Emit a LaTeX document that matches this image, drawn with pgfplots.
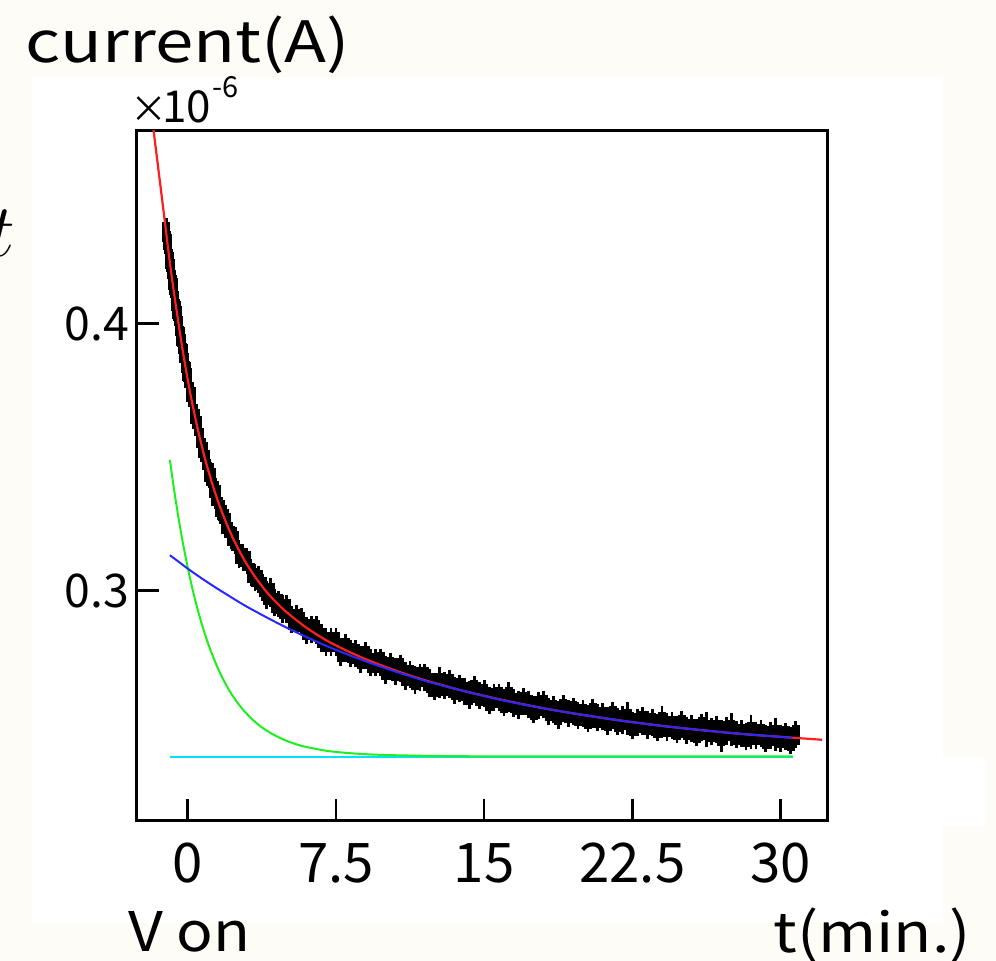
\documentclass[border=0pt]{standalone}
\usepackage{fix-cm}
\usepackage{fontspec}
\setmainfont{Noto Sans CJK JP}
\newfontfamily\titlefont{Noto Sans CJK JP}[FakeStretch=1.21]
\newfontfamily\vonfont{Noto Sans CJK JP}[FakeStretch=1.11]
\newfontfamily\timefont{Noto Sans CJK JP}[FakeStretch=1.15]
\usepackage{pgfplots}
\pgfplotsset{compat=1.18}

\definecolor{paper}{RGB}{253,252,247}
\definecolor{fitred}{RGB}{255,30,30}
\definecolor{fitblue}{RGB}{40,40,255}
\definecolor{fitgreen}{RGB}{30,240,30}
\definecolor{fitcyan}{RGB}{0,225,255}

% measured current, error = one standard deviation
\pgfplotstableread{
t      i       e
-1.08  0.4344  0.0030
-1.05  0.4312  0.0028
-1.00  0.4299  0.0031
-0.95  0.4243  0.0029
-0.90  0.4231  0.0030
-0.85  0.4206  0.0032
-0.80  0.4163  0.0028
-0.75  0.4146  0.0030
-0.70  0.4134  0.0031
-0.65  0.4086  0.0029
-0.60  0.4056  0.0030
-0.55  0.4047  0.0028
-0.50  0.4029  0.0031
-0.45  0.3991  0.0030
-0.40  0.3954  0.0029
-0.35  0.3952  0.0032
-0.30  0.3924  0.0030
-0.25  0.3891  0.0028
-0.20  0.3889  0.0030
-0.15  0.3853  0.0031
-0.10  0.3822  0.0029
-0.05  0.3821  0.0030
0.00   0.3796  0.0030
0.10   0.3745  0.0030
0.20   0.3727  0.0029
0.30   0.3664  0.0031
0.40   0.3642  0.0030
0.50   0.3619  0.0028
0.60   0.3572  0.0030
0.70   0.3536  0.0032
0.80   0.3522  0.0029
0.90   0.3491  0.0030
1.00   0.3446  0.0031
1.10   0.3443  0.0028
1.20   0.3423  0.0030
1.30   0.3385  0.0030
1.40   0.3355  0.0029
1.50   0.3358  0.0031
1.60   0.3314  0.0030
1.70   0.3302  0.0028
1.80   0.3286  0.0030
1.90   0.3251  0.0032
2.00   0.3255  0.0030
2.20   0.3206  0.0030
2.40   0.3187  0.0029
2.60   0.3137  0.0031
2.80   0.3125  0.0030
3.00   0.3111  0.0028
3.20   0.3067  0.0030
3.40   0.3050  0.0031
3.60   0.3042  0.0030
3.80   0.3013  0.0029
4.00   0.2984  0.0030
4.20   0.2993  0.0032
4.40   0.2956  0.0030
4.60   0.2952  0.0028
4.80   0.2932  0.0030
5.00   0.2931  0.0031
5.25   0.2892  0.0030
5.50   0.2894  0.0030
5.75   0.2884  0.0030
6.00   0.2852  0.0030
6.25   0.2856  0.0030
6.50   0.2853  0.0030
6.75   0.2823  0.0030
7.00   0.2808  0.0030
7.25   0.2808  0.0030
7.50   0.2808  0.0030
7.75   0.2771  0.0030
8.00   0.2786  0.0030
8.25   0.2766  0.0030
8.50   0.2764  0.0030
8.75   0.2743  0.0030
9.00   0.2757  0.0030
9.25   0.2730  0.0030
9.50   0.2730  0.0030
9.75   0.2732  0.0030
10.00  0.2703  0.0030
10.25  0.2715  0.0030
10.50  0.2699  0.0030
10.75  0.2710  0.0030
11.00  0.2681  0.0030
11.25  0.2686  0.0030
11.50  0.2666  0.0030
11.75  0.2676  0.0030
12.00  0.2676  0.0030
12.25  0.2655  0.0030
12.50  0.2641  0.0030
12.75  0.2657  0.0036
13.00  0.2644  0.0030
13.25  0.2651  0.0030
13.50  0.2627  0.0030
13.75  0.2635  0.0030
14.00  0.2623  0.0030
14.25  0.2610  0.0030
14.50  0.2629  0.0030
14.75  0.2607  0.0030
15.00  0.2615  0.0030
15.25  0.2589  0.0030
15.50  0.2600  0.0030
15.75  0.2601  0.0030
16.00  0.2581  0.0030
16.25  0.2602  0.0035
16.50  0.2580  0.0030
16.75  0.2572  0.0030
17.00  0.2584  0.0030
17.25  0.2574  0.0030
17.50  0.2555  0.0030
17.75  0.2569  0.0030
18.00  0.2573  0.0030
18.25  0.2549  0.0030
18.50  0.2554  0.0030
18.75  0.2535  0.0030
19.00  0.2558  0.0030
19.25  0.2541  0.0030
19.50  0.2549  0.0030
19.75  0.2533  0.0030
20.00  0.2539  0.0030
20.25  0.2521  0.0030
20.50  0.2541  0.0034
20.75  0.2525  0.0030
21.00  0.2529  0.0030
21.25  0.2512  0.0030
21.50  0.2532  0.0030
21.75  0.2509  0.0030
22.00  0.2516  0.0030
22.25  0.2521  0.0040
22.50  0.2495  0.0030
22.75  0.2506  0.0030
23.00  0.2512  0.0030
23.25  0.2497  0.0030
23.50  0.2506  0.0030
23.75  0.2487  0.0030
24.00  0.2509  0.0038
24.25  0.2490  0.0030
24.50  0.2495  0.0030
24.75  0.2480  0.0030
25.00  0.2498  0.0030
25.25  0.2478  0.0030
25.50  0.2484  0.0030
25.75  0.2468  0.0030
26.00  0.2489  0.0030
26.25  0.2480  0.0044
26.50  0.2472  0.0030
26.75  0.2481  0.0030
27.00  0.2457  0.0038
27.25  0.2475  0.0030
27.50  0.2481  0.0042
27.75  0.2461  0.0030
28.00  0.2465  0.0030
28.25  0.2454  0.0030
28.50  0.2471  0.0043
28.75  0.2459  0.0030
29.00  0.2465  0.0030
29.25  0.2446  0.0030
29.50  0.2458  0.0030
29.75  0.2462  0.0040
30.00  0.2448  0.0030
30.25  0.2455  0.0030
30.50  0.2439  0.0030
30.75  0.2461  0.0030
}\measured

% total fit
\pgfplotstableread{
t      i
-1.80  0.4768
-1.41  0.4535
-1.08  0.4336
-0.90  0.4228
-0.70  0.4119
-0.50  0.4019
-0.30  0.3922
-0.10  0.3833
0.10   0.3751
0.30   0.3677
0.50   0.3608
0.70   0.3546
0.90   0.3488
1.20   0.3411
1.50   0.3342
1.80   0.3282
2.20   0.3211
2.60   0.3151
3.00   0.3098
3.50   0.3043
4.00   0.2995
4.50   0.2955
5.00   0.2920
6.00   0.2862
7.00   0.2815
8.00   0.2777
9.00   0.2744
10.00  0.2715
11.00  0.2689
12.00  0.2665
13.00  0.2644
14.00  0.2624
16.00  0.2590
18.00  0.2560
20.00  0.2535
22.00  0.2513
24.00  0.2494
26.00  0.2478
28.00  0.2464
30.00  0.2453
32.10  0.2442
}\fittotal

% slow component plus offset
\pgfplotstableread{
t      i
-0.90  0.3133
-0.50  0.3111
0.00   0.3083
0.50   0.3057
1.00   0.3032
1.50   0.3008
2.00   0.2985
2.50   0.2962
3.00   0.2940
3.50   0.2920
4.00   0.2900
5.00   0.2862
6.00   0.2827
7.00   0.2794
8.00   0.2764
9.00   0.2736
10.00  0.2710
11.00  0.2686
12.00  0.2663
14.00  0.2624
16.00  0.2589
18.00  0.2560
20.00  0.2535
22.00  0.2513
24.00  0.2494
26.00  0.2478
28.00  0.2464
30.00  0.2453
30.60  0.2449
}\fitslow

% fast component plus offset
\pgfplotstableread{
t      i
-0.90  0.3490
-0.70  0.3384
-0.50  0.3289
-0.30  0.3202
-0.10  0.3124
0.10   0.3053
0.30   0.2989
0.50   0.2931
0.70   0.2879
1.00   0.2809
1.30   0.2750
1.60   0.2698
2.00   0.2640
2.40   0.2593
2.80   0.2555
3.20   0.2523
3.60   0.2497
4.00   0.2476
4.50   0.2455
5.00   0.2438
5.50   0.2425
6.00   0.2415
7.00   0.2401
8.00   0.2393
9.00   0.2388
10.00  0.2385
12.00  0.2382
15.00  0.2380
20.00  0.2380
30.60  0.2380
}\fitfast

% constant offset
\pgfplotstableread{
t      i
-0.90  0.2379
30.60  0.2379
}\fitoffset

\begin{document}
\begin{tikzpicture}
\useasboundingbox (0,0) rectangle (498pt,480.5pt);
\fill[paper] (0,0) rectangle (498pt,480.5pt);
\fill[white] (16pt,19pt) rectangle (471.5pt,442pt);
\fill[white] (471.5pt,67.5pt) rectangle (492.5pt,102pt);

\node[anchor=base east, inner sep=0pt, font=\fontsize{37.5}{40}\selectfont] at (7.5pt,352pt) {$t$};

\node[anchor=base west, inner sep=0pt, font=\titlefont\fontsize{28.5}{30}\selectfont] at (12.5pt,449pt) {current(A)};
\node[anchor=base west, inner sep=0pt, font=\fontsize{22}{24}\selectfont] at (68pt,419pt)
  {{\fontsize{18.5}{20}\selectfont\makebox[13pt][c]{×}}10\hspace{0.6pt}\raisebox{12.5pt}{\fontsize{14.5}{16}\selectfont -6}};
\node[anchor=base west, inner sep=0pt, font=\vonfont\fontsize{27.3}{30}\selectfont] at (64pt,4.5pt) {V on};
\node[anchor=base west, inner sep=0pt, font=\timefont\fontsize{27.3}{30}\selectfont] at (386.5pt,4pt) {t(min.)};

\begin{axis}[
  at={(68.35pt,70.15pt)}, anchor=south west,
  scale only axis, width=345.5pt, height=345pt,
  xmin=-2.58, xmax=32.38, ymin=0.2139, ymax=0.4723,
  axis line style={line width=1.3pt, black},
  tick style={line width=1.3pt, black},
  major tick length=11pt, tick align=inside, tick pos=left,
  xtick={0,7.5,15,22.5,30}, xticklabels={0,7.5,15,22.5,30},
  ytick={0.3,0.4}, yticklabels={0.3,0.4},
  xticklabel style={font=\fontsize{27.3}{30}\selectfont, anchor=base, inner sep=0pt, yshift=-31pt},
  yticklabel style={font=\fontsize{23.2}{26}\selectfont, anchor=east, inner sep=0pt, xshift=-3.5pt},
  scaled y ticks=false,
  clip=true, clip marker paths=true,
]
\addplot[black, only marks, mark=square*, mark size=1.75pt,
  mark options={yscale=2.7, black, fill=black},
  error bars/.cd, y dir=both, y explicit,
  error bar style={line width=1.2pt, black},
  error mark options={mark size=2.8pt, line width=1.4pt, black}]
  table[x=t, y=i, y error=e] {\measured};
\addplot[fitcyan, line width=1pt] table[x=t, y=i] {\fitoffset};
\addplot[fitgreen, line width=1pt, smooth] table[x=t, y=i] {\fitfast};
\addplot[fitred, line width=1.1pt, smooth] table[x=t, y=i] {\fittotal};
\addplot[fitblue, line width=1pt, smooth] table[x=t, y=i] {\fitslow};
\end{axis}
\end{tikzpicture}
\end{document}
